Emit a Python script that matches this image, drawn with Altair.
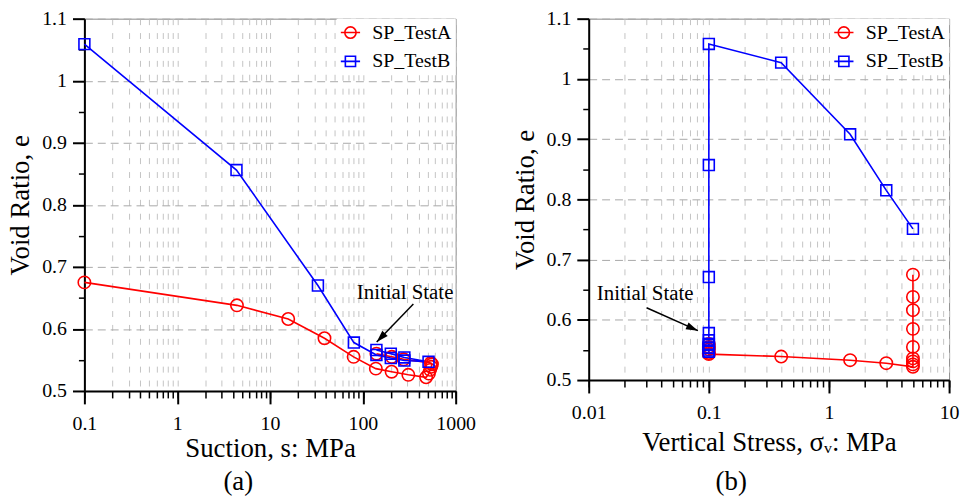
import math
import altair as alt
import pandas as pd

FONT = "Liberation Serif"
SERIES = ["SP_TestA", "SP_TestB"]
COLORS = ["#ff0000", "#0000ff"]

# ---------------- Panel (a): void ratio vs suction ----------------
a_A_suction = [140, 205, 275, 540, 555, 545, 530, 515, 480, 309, 204, 138, 79.5, 38.6, 15.7, 4.4, 0.1]
a_A_e = [0.560, 0.555, 0.551, 0.545, 0.543, 0.539, 0.534, 0.528, 0.522, 0.526, 0.531, 0.536, 0.555, 0.585, 0.616, 0.638, 0.675]
a_B_suction = [140, 200, 280, 510, 280, 200, 140, 80, 32.8, 4.35, 0.1]
a_B_e = [0.566, 0.560, 0.554, 0.547, 0.549, 0.553, 0.558, 0.578, 0.670, 0.856, 1.059]

# ---------------- Panel (b): void ratio vs vertical stress ----------------
b_A_stress = [0.1, 0.1, 0.1, 0.1, 0.1, 0.4, 1.5, 3.0, 5.0, 5.0, 5.0, 5.0, 5.0, 5.0, 5.0, 5.0, 5.0]
b_A_e = [0.560, 0.555, 0.551, 0.545, 0.543, 0.539, 0.533, 0.528, 0.522, 0.526, 0.531, 0.536, 0.555, 0.585, 0.616, 0.638, 0.675]
b_B_stress = [0.1, 0.1, 0.1, 0.1, 0.1, 0.1, 0.1, 0.1, 0.1, 0.1, 0.1, 0.4, 1.5, 3.0, 5.0]
b_B_e = [0.566, 0.560, 0.554, 0.547, 0.549, 0.553, 0.558, 0.578, 0.671, 0.857, 1.058, 1.027, 0.908, 0.815, 0.751]

# tick values
y_major = [0.5, 0.6, 0.7, 0.8, 0.9, 1.0, 1.1]
y_minor = [0.55, 0.65, 0.75, 0.85, 0.95, 1.05]
a_x_major = [0.1, 1, 10, 100, 1000]
b_x_major = [0.01, 0.1, 1, 10]
mults = [1, 2, 3, 4, 5, 6, 7, 8, 9]

# annotations: text position, arrow start, arrow tip (data coords)
a_note = {"text": "Initial State", "tx": 285, "ty": 0.658, "x1": 350, "y1": 0.640, "x2": 141, "y2": 0.579}
b_note = {"text": "Initial State", "tx": 0.0295, "ty": 0.643, "x1": 0.0303, "y1": 0.620, "x2": 0.0811, "y2": 0.582}

CIRCLE_LEG = "M-1,0A1,1,0,1,1,1,0A1,1,0,1,1,-1,0ZM-1.7,0L1.7,0"
SQUARE_LEG = "M-0.9,-0.9L0.9,-0.9L0.9,0.9L-0.9,0.9ZM-1.7,0L1.7,0"
HEAD = "M0,0L0.5,1.6L-0.5,1.6Z"


def minor_vals(major):
    out = []
    for m in major[:-1]:
        for k in mults:
            out.append(round(m * k, 6))
    out.append(major[-1])
    return out


def frame(xA, eA, xB, eB):
    rows = []
    for name, xs, es in ((SERIES[0], xA, eA), (SERIES[1], xB, eB)):
        for i, (x, e) in enumerate(zip(xs, es)):
            rows.append({"x": x, "e": e, "series": name, "order": i})
    return pd.DataFrame(rows)


def panel(df, x_major, xtitle, width, height, note, tag, tag_dx, xtitle_pad, tag_offset):
    xdom = [x_major[0], x_major[-1]]
    xscale = alt.Scale(type="log", domain=xdom, nice=False)
    yscale = alt.Scale(domain=[0.5, 1.1], nice=False, zero=False)

    x_minor_axis = alt.Axis(orient="bottom", values=minor_vals(x_major), labels=False, domain=False,
                            tickSize=7, tickWidth=1.5, tickColor="black",
                            grid=True, gridColor="#c4c4c4", gridDash=[6, 8], gridWidth=1, title=None)
    y_minor_axis = alt.Axis(orient="left", values=y_minor, labels=False, domain=False,
                            tickSize=6, tickWidth=1.5, tickColor="black", grid=False, title=None)
    x_major_axis = alt.Axis(orient="bottom", values=x_major, format="~g", tickSize=13, tickWidth=2,
                            tickColor="black", domain=True, domainColor="black", domainWidth=2,
                            labelFont=FONT, labelFontSize=20, labelColor="black", labelPadding=10,
                            labelFlush=False, labelOverlap=False, grid=False,
                            title=xtitle, titleFont=FONT, titleFontSize=27, titleFontWeight="normal",
                            titleColor="black", titlePadding=xtitle_pad)
    y_major_axis = alt.Axis(orient="left", values=y_major, format="~g", tickSize=12, tickWidth=2,
                            tickColor="black", domain=True, domainColor="black", domainWidth=2,
                            labelFont=FONT, labelFontSize=20, labelColor="black", labelPadding=6,
                            labelFlush=False, labelOverlap=False,
                            grid=True, gridColor="#a8a8a8", gridDash=[8, 5], gridWidth=1,
                            title="Void Ratio, e", titleFont=FONT, titleFontSize=27,
                            titleFontWeight="normal", titleColor="black", titlePadding=7)

    base = alt.Chart(df)
    layers = []
    # legend-only layer (no data drawn)
    legend = alt.Legend(
        title=None, orient="top-right", offset=0, padding=4, fillColor="white",
        labelFont=FONT, labelFontSize=20, labelColor="black", labelOffset=12,
        symbolSize=130, symbolStrokeWidth=1.6, rowPadding=9,
    )
    layers.append(base.transform_filter("false").mark_point(filled=False, strokeWidth=1.6, opacity=1).encode(
        x=alt.X("x:Q", scale=xscale, axis=x_minor_axis),
        y=alt.Y("e:Q", scale=yscale, axis=y_minor_axis),
        stroke=alt.Stroke("series:N", scale=alt.Scale(domain=SERIES, range=COLORS), legend=legend),
        shape=alt.Shape("series:N", scale=alt.Scale(domain=SERIES, range=[CIRCLE_LEG, SQUARE_LEG]), legend=legend),
    ))
    for name, col in zip(SERIES, COLORS):
        layers.append(base.transform_filter(alt.datum.series == name).mark_line(strokeWidth=1.6, color=col).encode(
            x=alt.X("x:Q", scale=xscale, axis=None),
            y=alt.Y("e:Q", scale=yscale, axis=None),
            order="order:Q",
        ))
    layers.append(base.transform_filter(alt.datum.series == SERIES[0]).mark_point(
        shape="circle", filled=False, strokeWidth=1.6, size=155, opacity=1, color=COLORS[0]).encode(
        x=alt.X("x:Q", scale=xscale, axis=x_major_axis),
        y=alt.Y("e:Q", scale=yscale, axis=y_major_axis),
    ))
    layers.append(base.transform_filter(alt.datum.series == SERIES[1]).mark_point(
        shape="square", filled=False, strokeWidth=1.6, size=120, opacity=1, color=COLORS[1]).encode(
        x=alt.X("x:Q", scale=xscale, axis=None),
        y=alt.Y("e:Q", scale=yscale, axis=None),
    ))

    # annotation
    lx0, lx1 = math.log10(xdom[0]), math.log10(xdom[1])
    px = lambda v: width * (math.log10(v) - lx0) / (lx1 - lx0)
    py = lambda v: height * (1 - (v - 0.5) / 0.6)
    dx = px(note["x2"]) - px(note["x1"])
    dy = py(note["y2"]) - py(note["y1"])
    ang = (math.degrees(math.atan2(dx, -dy)) + 360) % 360
    ndf = pd.DataFrame([note])
    nbase = alt.Chart(ndf)
    layers.append(nbase.mark_rule(color="black", strokeWidth=1.5).encode(
        x=alt.X("x1:Q", scale=xscale, axis=None), y=alt.Y("y1:Q", scale=yscale, axis=None),
        x2="x2:Q", y2="y2:Q"))
    layers.append(nbase.mark_point(shape=HEAD, filled=True, color="black", size=225, angle=ang, opacity=1).encode(
        x=alt.X("x2:Q", scale=xscale, axis=None), y=alt.Y("y2:Q", scale=yscale, axis=None)))
    layers.append(nbase.mark_text(font=FONT, fontSize=21, color="black", align="center", baseline="middle").encode(
        x=alt.X("tx:Q", scale=xscale, axis=None), y=alt.Y("ty:Q", scale=yscale, axis=None), text="text:N"))

    return alt.layer(*layers).resolve_axis(x="independent", y="independent").properties(
        width=width, height=height,
        title=alt.TitleParams(tag, orient="bottom", anchor="middle", dx=tag_dx, offset=tag_offset,
                              font=FONT, fontSize=27, fontWeight="normal", color="black"),
    )


df_a = frame(a_A_suction, a_A_e, a_B_suction, a_B_e)
df_b = frame(b_A_stress, b_A_e, b_B_stress, b_B_e)

pa = panel(df_a, a_x_major, "Suction, s: MPa", 374, 375, a_note, "(a)", -32, 2, 8)
pb = panel(df_b, b_x_major, "Vertical Stress, σᵥ: MPa", 363, 364, b_note, "(b)", -38, 7, 14)

chart = alt.hconcat(pa, pb, spacing=34).resolve_scale(
    stroke="independent", shape="independent"
).resolve_legend(stroke="independent", shape="independent").properties(
    padding={"left": 6, "top": 6, "right": 2, "bottom": 0},
    background="white",
).configure_view(stroke="#8a8a8a", strokeWidth=1).configure_axis(
    labelFont=FONT, titleFont=FONT
).configure_legend(labelFont=FONT).configure_title(font=FONT).configure_text(font=FONT)

chart.save("out.html", embed_options={"renderer": "svg", "actions": False})
